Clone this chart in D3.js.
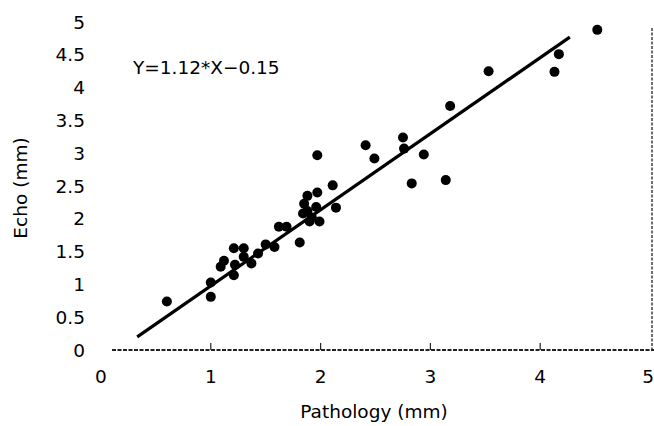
<!DOCTYPE html>
<html><head><meta charset="utf-8">
<script src="https://cdn.jsdelivr.net/npm/d3@7"></script>
<style>body{margin:0;background:#fff}svg{display:block}text{font-family:"DejaVu Sans",sans-serif;fill:#000}</style>
</head><body><svg id="c" width="654" height="426"></svg>
<script>
const pathology = [0.60,1.00,1.00,1.09,1.12,1.21,1.30,1.22,1.21,1.30,1.37,1.43,1.50,1.58,1.62,1.69,1.81,1.84,1.85,1.88,1.90,1.96,1.99,1.97,1.97,2.11,2.14,1.88,1.92,2.41,2.49,2.75,2.76,2.94,2.83,3.14,3.18,3.53,4.13,4.17,4.52];
const echo      = [0.74,0.81,1.03,1.27,1.36,1.55,1.55,1.30,1.14,1.42,1.32,1.47,1.61,1.57,1.88,1.88,1.64,2.08,2.23,2.35,1.96,2.18,1.96,2.40,2.97,2.51,2.17,2.12,2.02,3.12,2.92,3.24,3.07,2.98,2.54,2.59,3.72,4.25,4.24,4.51,4.88];
const fitX = [0.33, 4.27];
const fitY = [0.20, 4.77];
const yTicks = [0,0.5,1,1.5,2,2.5,3,3.5,4,4.5,5];
const xTicks = [0,1,2,3,4,5];
const equation = "Y=1.12*X\u22120.15";
const xTitle = "Pathology (mm)";
const yTitle = "Echo (mm)";

const svg = d3.select("#c");
const x = d3.scaleLinear().domain([0,5]).range([101,650]);
const y = d3.scaleLinear().domain([0,5]).range([350,22]);
const fs = 18.5;

// bottom axis (dotted scan-like line)
svg.append("line").attr("x1",112).attr("x2",654).attr("y1",y(0)).attr("y2",y(0))
  .attr("stroke","#222").attr("stroke-width",1.8).attr("stroke-dasharray","4,1.5");
// right frame
svg.append("line").attr("x1",652).attr("x2",652).attr("y1",28).attr("y2",y(0))
  .attr("stroke","#333").attr("stroke-width",1.4).attr("stroke-dasharray","3,1.5");
// ticks
svg.selectAll(".tk").data(xTicks.filter(d=>d>0&&d<5)).enter().append("line")
  .attr("x1",d=>x(d)).attr("x2",d=>x(d)).attr("y1",y(0)).attr("y2",y(0)-7)
  .attr("stroke","#222").attr("stroke-width",1.2);

// tick labels
svg.selectAll(".xl").data(xTicks).enter().append("text")
  .attr("x",d=>d===5?654:x(d)).attr("y",383).attr("text-anchor",d=>d===5?"end":"middle").attr("font-size",fs)
  .text(d=>d);
svg.selectAll(".yl").data(yTicks).enter().append("text")
  .attr("x",85).attr("y",d=>y(d)).attr("dy","0.36em").attr("text-anchor","end").attr("font-size",fs)
  .text(d=>d);

// titles
svg.append("text").attr("x",374).attr("y",418).attr("text-anchor","middle").attr("font-size",fs).text(xTitle);
svg.append("text").attr("transform","translate(27,188) rotate(-90)").attr("text-anchor","middle").attr("font-size",fs).text(yTitle);
svg.append("text").attr("x",133).attr("y",74).attr("font-size",fs).text(equation);

// regression line
svg.append("line").attr("x1",x(fitX[0])).attr("y1",y(fitY[0])).attr("x2",x(fitX[1])).attr("y2",y(fitY[1]))
  .attr("stroke","#000").attr("stroke-width",3.2);

// points
svg.selectAll(".pt").data(pathology.map((p,i)=>[p,echo[i]])).enter().append("circle")
  .attr("cx",d=>x(d[0])).attr("cy",d=>y(d[1])).attr("r",5).attr("fill","#000");
</script></body></html>
